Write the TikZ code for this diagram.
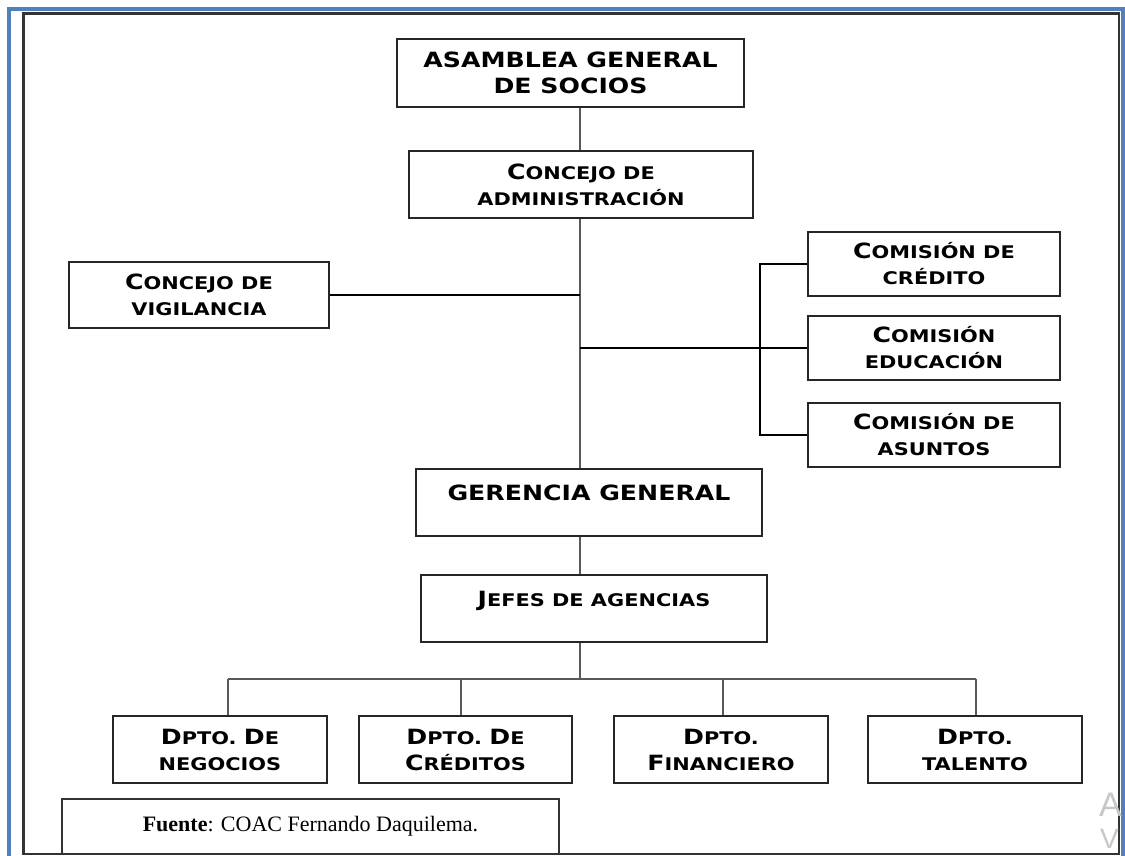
\documentclass[tikz,border=0pt]{standalone}
\usepackage{fontspec}
\setmainfont{Liberation Serif}
\newfontfamily\cop{DejaVu Sans}[FakeStretch=1.2]
\newfontfamily\wmfont{Liberation Sans}
\newcommand\capL[1]{{\fontsize{21}{26}\selectfont #1}}
\definecolor{frameblue}{RGB}{79,129,189}
\tikzset{
  orgbox/.style={draw=black!85, line width=1.9pt, fill=white, align=center, inner sep=2pt,
    font=\cop\bfseries\fontsize{17.4}{26}\selectfont},
  conn/.style={draw=black!65, line width=1.8pt},
  hline/.style={draw=black, line width=1.2pt},
}
\begin{document}
\begin{tikzpicture}[x=1pt,y=-1pt]
\useasboundingbox (0,0) rectangle (1125,856);
\fill[white] (0,0) rectangle (1125,856);
% frames
\draw[draw=frameblue, line width=3.6pt] (9,860) -- (9,9) -- (1123,9) -- (1123,860);
\draw[draw=black!80, line width=2.4pt] (23.5,13.7) rectangle (1119,854);
% trunk coordinates
\coordinate (tx) at (580,0);
\coordinate (bx) at (760,0);
\coordinate (bus) at (580,679);
\coordinate (v1) at (228,679);
\coordinate (v2) at (461,679);
\coordinate (v3) at (723,679);
\coordinate (v4) at (976,679);
% boxes
\node[orgbox, minimum width=347pt, minimum height=68pt] (asam) at (570.5,73)
  {\capL{ASAMBLEA GENERAL}\\\capL{DE SOCIOS}};
\node[orgbox, minimum width=344pt, minimum height=67pt] (admin) at (581,184.5)
  {\capL{C}ONCEJO DE\\ADMINISTRACIÓN};
\node[orgbox, minimum width=260pt, minimum height=66pt] (vig) at (199,295)
  {\capL{C}ONCEJO DE\\VIGILANCIA};
\node[orgbox, minimum width=252pt, minimum height=64pt] (cred) at (934,264)
  {\capL{C}OMISIÓN DE\\CRÉDITO};
\node[orgbox, minimum width=252pt, minimum height=64pt] (edu) at (934,348)
  {\capL{C}OMISIÓN\\EDUCACIÓN};
\node[orgbox, minimum width=252pt, minimum height=64pt] (asu) at (934,435)
  {\capL{C}OMISIÓN DE\\ASUNTOS};
\node[orgbox, minimum width=346pt, minimum height=67pt] (ger) at (589,502.5)
  {\capL{GERENCIA GENERAL}\\[-6pt]\mbox{}};
\node[orgbox, minimum width=346pt, minimum height=67pt] (jef) at (594,608.5)
  {\capL{J}EFES DE AGENCIAS\\[-6pt]\mbox{}};
\node[orgbox, minimum width=214pt, minimum height=67pt] (neg) at (220,749.5)
  {\capL{D}PTO. \capL{D}E\\NEGOCIOS};
\node[orgbox, minimum width=213pt, minimum height=67pt] (cre) at (465.5,749.5)
  {\capL{D}PTO. \capL{D}E\\\capL{C}RÉDITOS};
\node[orgbox, minimum width=214pt, minimum height=67pt] (fin) at (721,749.5)
  {\capL{D}PTO.\\\capL{F}INANCIERO};
\node[orgbox, minimum width=214pt, minimum height=67pt] (tal) at (975,749.5)
  {\capL{D}PTO.\\TALENTO};
\node[draw=black!80, line width=1.8pt, minimum width=497pt, minimum height=55pt,
  font=\fontsize{22}{26}\selectfont] (fte) at (310.5,826.5)
  {\textbf{Fuente}: COAC Fernando Daquilema.};
% connectors
\draw[conn] (asam.south -| tx) -- (admin.north -| tx);
\draw[conn] (admin.south -| tx) -- (ger.north -| tx);
\draw[hline] (vig.east) -- (vig.east -| tx);
\draw[hline] (edu.west -| tx) -- (edu.west);
\draw[hline] (cred.west) -- (cred.west -| bx) -- (asu.west -| bx) -- (asu.west);
\draw[conn] (ger.south -| tx) -- (jef.north -| tx);
\draw[conn] (jef.south -| tx) -- (bus);
\draw[conn] (v1) -- (v4);
\draw[conn] (v1) -- (v1 |- neg.north);
\draw[conn] (v2) -- (v2 |- cre.north);
\draw[conn] (v3) -- (v3 |- fin.north);
\draw[conn] (v4) -- (v4 |- tal.north);
% watermark
\node[anchor=base west, inner sep=0pt, text=black!22, font=\wmfont\fontsize{34}{34}\selectfont] (wa) at (1099,816) {A};
\node[anchor=base west, inner sep=0pt, text=black!22, font=\wmfont\fontsize{28}{28}\selectfont] (wv) at (1100,848) {V};
\end{tikzpicture}
\end{document}
